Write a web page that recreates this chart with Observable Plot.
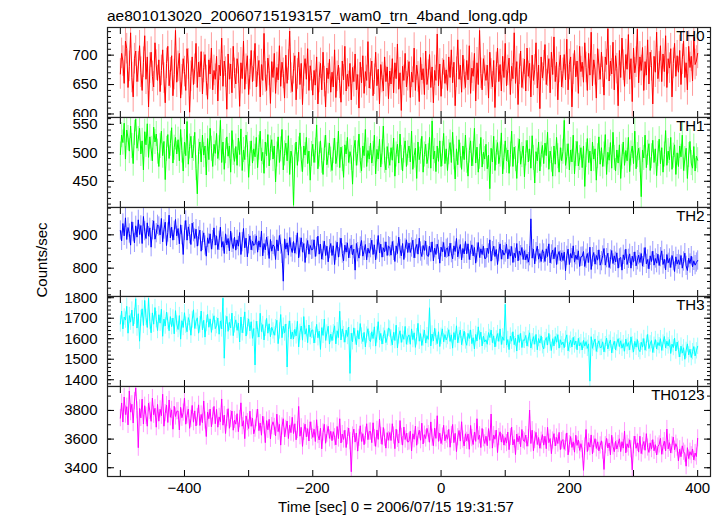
<!DOCTYPE html>
<html><head><meta charset="utf-8">
<script src="https://cdn.jsdelivr.net/npm/d3@7"></script>
<script src="https://cdn.jsdelivr.net/npm/@observablehq/plot@0.6"></script>
<style>
body{margin:0;background:#fff;}
#c{position:relative;width:724px;height:516px;overflow:hidden;background:#fff;}
#c > svg{position:absolute;left:0;}
</style></head><body><div id="c"></div>
<script>
const FONT = '"Liberation Sans", Arial, Helvetica, sans-serif';
const TITLE = "ae801013020_20060715193157_wam0_trn_4band_long.qdp";
const YLABEL = "Counts/sec";
const XLABEL = "Time [sec] 0 = 2006/07/15 19:31:57";
const names = ["TH0", "TH1", "TH2", "TH3", "TH0123"];
const colors = ["#ff0000", "#00ff00", "#0000ff", "#00ffff", "#ff00ff"];
const T0 = -500, DT = 2;
const errs = [26, 22, 29, 40, 60];
const xTicks = [-500, -400, -300, -200, -100, 0, 100, 200, 300, 400];
const xLabels = [-400, -200, 0, 200, 400];
const yMajor = [[600, 650, 700], [450, 500, 550], [800, 900], [1400, 1500, 1600, 1700, 1800], [3400, 3600, 3800]];
const yMinorStep = [10, 10, 20, 20, 100];
const yDomains = [[594, 747], [404, 562], [715, 982], [1367, 1806], [3339, 3967]];

const th0 = [
668,703,690,652,724,711,645,681,738,662,629,694,707,655,680,
716,671,640,688,733,659,697,612,678,705,664,646,721,683,657,
692,638,674,709,661,619,686,715,648,670,699,631,667,742,654,
681,703,627,658,694,672,640,711,685,603,664,697,650,676,720,
645,688,663,706,634,679,701,657,625,692,668,712,641,674,659,
698,622,683,665,729,647,690,671,608,702,659,685,636,715,669,
651,694,678,613,687,660,724,642,676,699,633,667,708,655,681,
720,646,672,691,629,684,657,737,663,640,695,674,618,689,662,
703,635,679,658,716,647,688,669,627,700,652,683,741,661,638,
677,699,624,668,705,650,686,616,673,694,659,711,640,682,665,
632,674,649,697,617,662,686,641,705,655,612,678,660,693,637,
671,646,709,628,664,683,652,620,690,658,715,639,668,647,686,
624,679,655,702,641,667,610,688,653,699,635,672,657,723,644,
668,690,631,659,705,648,676,617,684,662,639,697,655,680,626,
673,651,694,636,687,660,719,642,670,606,681,657,703,646,665,
689,628,671,654,712,640,683,663,621,696,658,677,633,707,650,
666,701,645,680,619,674,657,736,648,685,630,668,692,652,675,
640,697,662,709,653,688,614,671,726,659,683,637,700,667,645,
691,658,716,635,678,664,703,622,687,650,742,669,641,694,673,
657,683,627,705,668,646,691,611,679,712,655,684,639,698,662,
720,648,674,695,633,681,660,738,652,689,616,676,707,645,668,
693,639,712,664,686,629,700,657,675,721,644,683,609,697,661,
682,718,650,673,694,636,705,667,731,655,688,624,679,700,646,
669,701,658,727,641,684,697,612,676,708,663,690,635,715,672,
688,654,721,679,640,703,666,739,648,692,675,627,711,683,659,
705,671,632,697,684,745,656,690,668,722,641,699,677,614,708,
662,729,683,647,701,676,735,659,694,621,712,670,688,744,653,
697,674,713,640,689,666,726,651,705,682,617,698,671,739,660,
680,716,655,702,672,733,645,694,678,711,629,686,720,664,699,
671,708,650,693,724,662,687,641,715,679,698,656,731,684,690,
703];
const th1 = [
497,531,518,552,489,540,526,503,547,512,481,535,559,508,524,
543,498,521,470,537,514,551,492,528,507,486,545,519,533,502,
476,512,538,495,520,453,507,532,490,516,544,482,509,527,498,
523,486,541,504,468,519,495,555,480,511,529,491,507,536,473,
428,502,519,484,531,496,512,461,525,488,543,507,476,515,499,
534,490,508,557,483,519,471,503,528,494,512,466,539,500,485,
511,478,526,497,542,469,505,488,531,514,457,498,521,482,507,
493,527,474,509,538,486,501,464,519,495,532,477,508,523,489,
512,449,497,528,483,506,541,470,499,517,486,530,462,503,491,
408,494,519,478,506,535,488,467,512,496,527,481,503,452,498,
515,483,504,549,472,497,521,486,462,508,531,479,495,517,488,
469,503,526,481,496,538,474,510,489,457,514,498,527,483,502,
491,445,507,522,478,499,533,486,468,512,495,541,476,504,489,
517,482,498,531,463,506,489,524,475,501,547,486,470,511,494,
478,509,487,526,459,497,515,482,533,491,468,504,521,476,499,
512,484,538,471,495,508,455,519,488,502,529,466,497,515,481,
494,527,473,556,489,503,467,512,485,521,476,498,534,481,507,
469,501,518,483,536,492,454,507,479,523,495,471,512,488,531,
486,459,504,521,477,498,543,482,510,466,493,527,475,501,489,
515,472,496,437,508,484,529,469,500,518,481,497,535,463,492,
521,486,505,464,497,538,476,510,489,455,503,524,480,496,512,
458,499,522,484,507,473,530,491,447,502,486,519,468,497,513,
481,517,495,536,471,503,488,459,512,480,527,494,466,509,486,
502,557,478,493,516,470,505,484,531,463,498,520,477,491,509,
474,512,441,496,525,483,503,468,519,489,507,452,494,528,480,
509,476,497,532,462,501,487,518,473,536,491,468,505,482,514,
455,493,519,478,504,486,527,467,499,512,481,538,472,496,508,
487,423,505,491,531,474,500,516,469,494,522,483,507,460,498,
524,481,509,466,497,539,478,503,488,527,471,495,514,462,500,
476,512,493,531,469,489,508,455,496,520,482,473,511,468,494,
487];
const th2 = [
913,882,934,897,951,886,922,904,869,939,908,876,927,893,945,
901,928,874,955,911,889,936,896,921,863,914,942,887,905,930,
925,900,949,879,916,938,868,907,959,891,923,884,912,946,897,
919,873,930,899,841,912,943,884,924,902,871,935,908,889,917,
866,895,914,851,882,906,868,836,891,874,903,857,884,921,869,
897,856,882,923,863,880,844,903,870,889,852,911,876,859,893,
854,885,866,907,841,878,919,861,890,834,872,897,855,881,868,
872,897,848,882,863,911,837,874,855,893,866,829,886,851,870,
865,826,885,852,898,871,843,761,888,857,876,839,892,862,847,
880,845,869,906,831,862,891,848,874,817,859,883,842,868,855,
856,885,835,863,896,842,872,827,852,881,838,866,819,857,874,
838,867,811,852,878,833,861,890,844,822,869,848,876,831,858,
869,840,857,794,874,848,830,865,883,836,852,871,825,860,845,
860,884,841,870,825,856,898,846,872,833,861,849,879,838,866,
863,839,880,852,820,867,844,893,857,837,874,826,859,885,847,
875,847,862,884,831,858,871,842,890,850,835,868,853,881,839,
835,866,848,879,822,860,841,872,855,815,863,849,877,834,858,
861,836,875,845,828,867,850,889,834,856,871,825,859,843,880,
843,873,826,852,870,837,862,815,847,877,832,858,841,866,829,
830,860,844,885,821,851,866,835,856,811,848,873,827,854,839,
847,872,828,856,836,865,817,845,831,874,822,851,839,862,826,
852,825,842,818,836,948,830,857,813,848,866,827,844,820,855,
844,820,858,835,873,816,841,854,828,862,811,839,850,823,846,
823,848,792,837,857,811,844,830,867,818,839,826,852,805,834,
835,850,805,828,844,817,863,796,833,847,812,838,824,855,809,
821,838,859,809,830,845,802,826,853,814,837,819,846,800,829,
832,794,840,825,857,811,828,843,800,836,818,849,807,824,839,
817,844,806,831,862,813,826,798,837,820,851,809,829,815,842,
808,833,852,811,827,795,841,816,829,802,838,821,790,834,812,
825,811,838,800,820,845,807,793,830,814,836,804,822,809,817,
823];
const th3 = [
1672,1735,1648,1706,1691,1758,1627,1713,1681,1740,1663,1709,1795,1652,1722,
1588,1699,1746,1665,1787,1704,1655,1797,1684,1629,1726,1671,1752,1693,1640,
1717,1676,1744,1612,1696,1662,1730,1686,1639,1708,1659,1701,1624,1737,1672,
1645,1713,1598,1688,1655,1727,1666,1634,1703,1679,1617,1692,1741,1650,1685,
1702,1627,1668,1735,1643,1690,1608,1674,1719,1656,1697,1631,1681,1712,1649,
1664,1701,1622,1687,1648,1798,1505,1671,1709,1636,1680,1653,1725,1615,1668,
1692,1641,1676,1584,1706,1629,1665,1731,1613,1658,1697,1638,1683,1602,1650,
1472,1685,1644,1608,1724,1635,1669,1594,1651,1699,1627,1673,1610,1656,1638,
1617,1654,1690,1576,1638,1718,1605,1661,1628,1672,1462,1645,1687,1599,1633,
1599,1646,1614,1685,1560,1631,1662,1593,1708,1622,1649,1581,1667,1610,1640,
1643,1579,1617,1670,1605,1637,1548,1654,1616,1696,1592,1628,1661,1574,1623,
1591,1629,1663,1575,1639,1606,1734,1594,1648,1620,1583,1642,1611,1657,1431,
1627,1585,1653,1609,1571,1640,1598,1674,1613,1586,1631,1560,1618,1649,1596,
1586,1634,1601,1658,1564,1619,1683,1595,1626,1574,1612,1640,1581,1607,1652,
1647,1603,1570,1631,1591,1666,1555,1614,1639,1582,1620,1597,1660,1573,1608,
1619,1573,1648,1596,1629,1558,1610,1675,1588,1625,1567,1604,1642,1579,1615,
1597,1751,1565,1623,1589,1651,1607,1576,1634,1562,1612,1648,1585,1620,1594,
1611,1644,1587,1619,1554,1630,1595,1663,1580,1616,1642,1571,1604,1637,1589,
1568,1626,1601,1643,1576,1605,1550,1621,1589,1658,1597,1632,1565,1613,1584,
1595,1573,1630,1606,1642,1581,1614,1560,1599,1625,1587,1648,1572,1609,1592,
1768,1569,1596,1547,1613,1588,1634,1571,1603,1540,1619,1582,1626,1557,1594,
1592,1616,1564,1599,1629,1555,1585,1610,1573,1621,1546,1601,1579,1614,1566,
1550,1591,1606,1569,1626,1578,1543,1600,1565,1611,1583,1620,1554,1595,1571,
1584,1556,1598,1619,1541,1574,1593,1560,1607,1570,1589,1546,1602,1565,1581,
1545,1592,1564,1586,1553,1575,1393,1610,1553,1581,1599,1538,1572,1590,1557,
1558,1585,1536,1571,1603,1550,1578,1594,1531,1567,1588,1545,1579,1600,1562,
1590,1554,1576,1539,1598,1563,1581,1546,1609,1570,1535,1587,1559,1596,1548,
1537,1583,1559,1601,1544,1577,1621,1552,1575,1591,1533,1568,1596,1550,1582,
1566,1600,1543,1579,1611,1555,1588,1565,1596,1528,1574,1557,1603,1540,1584,
1548,1511,1564,1530,1556,1500,1543,1575,1521,1549,1508,1537,1562,1516,1541,
1563];
const th0123 = [
3746,3852,3719,3894,3771,3826,3699,3936,3788,3843,3712,3865,3957,3801,3540,
3814,3748,3879,3705,3833,3762,3690,3851,3797,3724,3886,3770,3815,3683,3842,
3725,3808,3763,3913,3690,3781,3837,3716,3873,3752,3804,3669,3829,3758,3794,
3796,3664,3822,3749,3785,3887,3704,3766,3810,3675,3741,3835,3718,3797,3692,
3753,3839,3695,3772,3715,3866,3730,3618,3789,3742,3810,3686,3759,3828,3707,
3807,3683,3755,3721,3880,3697,3768,3639,3746,3812,3675,3739,3796,3662,3733,
3704,3777,3652,3740,3853,3690,3728,3603,3762,3718,3674,3795,3689,3746,3637,
3673,3746,3809,3659,3712,3627,3760,3694,3575,3729,3665,3738,3602,3691,3721,
3685,3623,3774,3652,3703,3558,3688,3742,3616,3671,3726,3604,3697,3645,3752,
3639,3707,3595,3663,3828,3620,3682,3549,3650,3704,3616,3673,3587,3721,3658,
3612,3669,3583,3735,3628,3594,3677,3532,3646,3703,3571,3638,3689,3605,3654,
3589,3652,3613,3560,3688,3604,3742,3573,3635,3597,3662,3541,3619,3677,3586,
3372,3625,3670,3579,3642,3516,3609,3693,3584,3638,3561,3624,3707,3596,3652,
3653,3575,3714,3607,3549,3664,3598,3740,3622,3563,3681,3610,3537,3645,3592,
3646,3590,3707,3625,3533,3669,3602,3572,3729,3616,3558,3684,3597,3641,3579,
3584,3655,3518,3637,3599,3690,3557,3623,3662,3592,3711,3566,3631,3604,3675,
3635,3578,3720,3610,3554,3677,3605,3763,3584,3642,3569,3617,3696,3588,3631,
3599,3668,3543,3629,3702,3575,3640,3513,3613,3660,3586,3721,3597,3552,3637,
3588,3636,3529,3695,3607,3562,3649,3584,3742,3598,3627,3541,3674,3606,3570,
3620,3554,3673,3590,3775,3537,3628,3599,3663,3506,3614,3651,3579,3632,3558,
3610,3572,3649,3526,3614,3683,3559,3598,3492,3635,3581,3622,3547,3667,3593,
3583,3628,3550,3606,3803,3569,3662,3519,3594,3647,3562,3611,3536,3589,3631,
3558,3620,3533,3682,3575,3604,3498,3590,3638,3552,3611,3569,3647,3527,3586,
3597,3529,3575,3643,3490,3564,3618,3542,3581,3509,3627,3556,3594,3521,3568,
3529,3382,3548,3667,3513,3576,3544,3629,3497,3562,3603,3535,3581,3518,3556,
3588,3520,3388,3557,3605,3538,3573,3490,3627,3549,3512,3584,3531,3566,3602,
3513,3582,3537,3655,3504,3567,3541,3595,3529,3385,3558,3621,3536,3574,3509,
3620,3499,3550,3583,3522,3638,3541,3507,3574,3530,3596,3518,3561,3489,3548,
3563,3605,3494,3549,3586,3518,3670,3532,3575,3503,3557,3614,3526,3568,3541,
3448,3529,3477,3553,3512,3498,3411,3540,3464,3512,3487,3531,3455,3503,3478,
3605];
const series = [th0, th1, th2, th3, th0123];

const panelTops = [27, 117, 207, 296, 386];
const panelHeights = [90, 90, 89, 90, 90];
const xDomain = [-520, 420];

const root = document.getElementById("c");

series.forEach((vals, i) => {
  const last = i === series.length - 1;
  const data = vals.map((v, k) => ({t: T0 + k * DT, v, lo: v - errs[i], hi: v + errs[i]}));
  const [d0, d1] = yDomains[i];
  const minor = d3.range(Math.ceil(d0 / yMinorStep[i]) * yMinorStep[i], d1, yMinorStep[i]);
  const mb = last ? 40 : 0;
  const svg = Plot.plot({
    width: 724,
    height: panelHeights[i] + mb,
    marginLeft: 107, marginRight: 14, marginTop: 0, marginBottom: mb,
    style: {fontFamily: FONT, fontSize: "15px", background: "white", overflow: "visible", color: "black"},
    x: {domain: xDomain, axis: null},
    y: {domain: yDomains[i], axis: null},
    marks: [
      Plot.ruleX(data, {x: "t", y1: "lo", y2: "hi", stroke: colors[i], strokeOpacity: 0.4, strokeWidth: 1, clip: true}),
      Plot.line(data, {x: "t", y: "v", stroke: colors[i], strokeWidth: 1, clip: true}),
      Plot.axisY({anchor: "left", ticks: yMajor[i], tickSize: 0, tickPadding: 10, label: null, tickFormat: d => String(d), fontSize: 15}),
      Plot.axisY({anchor: "left", ticks: yMajor[i], tickSize: -7, fill: "none", label: null}),
      Plot.axisY({anchor: "left", ticks: minor, tickSize: -4, fill: "none", label: null}),
      Plot.axisY({anchor: "right", ticks: yMajor[i], tickSize: -7, fill: "none", label: null}),
      Plot.axisY({anchor: "right", ticks: minor, tickSize: -4, fill: "none", label: null}),
      Plot.axisX({anchor: "bottom", ticks: xTicks, tickSize: -6, fill: "none", label: null}),
      Plot.axisX({anchor: "top", ticks: xTicks, tickSize: -6, fill: "none", label: null}),
      last ? Plot.axisX({anchor: "bottom", ticks: xLabels, tickSize: 0, tickPadding: 6, label: null, fontSize: 15}) : null,
      Plot.frame({stroke: "#222", strokeWidth: 1.2}),
      Plot.text([names[i]], {text: d => d, frameAnchor: "top-right", dx: -6, dy: 3, lineAnchor: "top", textAnchor: "end", fontSize: 15, fill: "black"})
    ]
  });
  svg.style.top = panelTops[i] + "px";
  root.appendChild(svg);
});

// overlay with title and axis labels
const ov = d3.select(root).append("svg")
  .attr("width", 724).attr("height", 516)
  .style("top", "0px").style("pointer-events", "none")
  .style("font-family", FONT);
ov.append("text").attr("x", 107).attr("y", 20.5).attr("font-size", 15.5).attr("fill", "black").text(TITLE);
ov.append("text").attr("transform", "translate(46.5,260) rotate(-90)").attr("text-anchor", "middle")
  .attr("font-size", 15).attr("fill", "black").text(YLABEL);
ov.append("text").attr("x", 396).attr("y", 512).attr("text-anchor", "middle")
  .attr("font-size", 15).attr("fill", "black").text(XLABEL);
</script></body></html>
